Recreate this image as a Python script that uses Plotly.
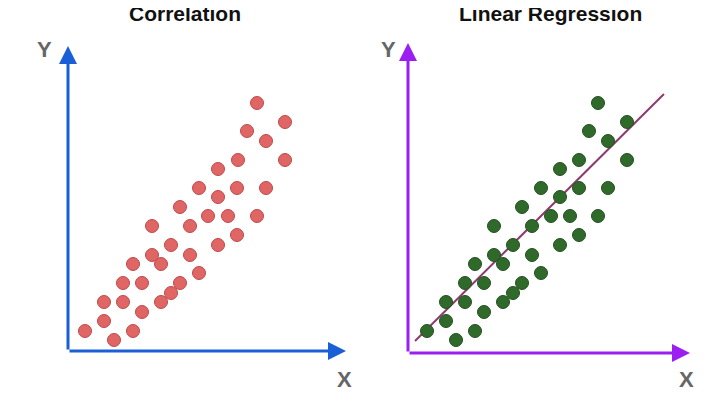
import plotly.graph_objects as go

# point positions (page-like units, y grows downwards)
corr_x = [257, 247, 285, 266, 285, 238, 218, 199, 237, 266, 180, 218, 208, 228, 257, 152, 190,
          171, 218, 237, 133, 152, 190, 161, 142, 180, 199, 123, 171, 104, 161, 123, 142, 104,
          85, 133, 114]
corr_y = [102, 130, 121, 140, 159, 159, 168, 187, 187, 187, 206, 196, 215, 215, 215, 225, 225,
          244, 244, 234, 263, 254, 254, 263, 282, 282, 272, 282, 292, 301, 301, 301, 311, 320,
          330, 330, 339]
reg_x = [598, 589, 627, 608, 627, 579, 560, 541, 579, 608, 522, 560, 551, 570, 598, 494, 532,
         513, 560, 579, 475, 494, 532, 503, 484, 522, 541, 465, 513, 446, 503, 465, 484, 446,
         427, 475, 456]
reg_y = corr_y
line_x = [415, 664]
line_y = [340, 93]

fig = go.Figure()
fig.add_trace(go.Scatter(x=corr_x, y=corr_y, mode="markers",
                         marker=dict(size=13, color="#e06666", line=dict(color="#c04848", width=1))))
fig.add_trace(go.Scatter(x=line_x, y=line_y, mode="lines", line=dict(color="#8e3a6f", width=2)))
fig.add_trace(go.Scatter(x=reg_x, y=reg_y, mode="markers",
                         marker=dict(size=13, color="#2f6a2a", line=dict(color="#244f20", width=1))))

def arrow(x0, y0, x1, y1, color):
    fig.add_annotation(x=x1, y=y1, ax=x0, ay=y0, xref="x", yref="y", axref="x", ayref="y",
                       showarrow=True, arrowhead=2, arrowsize=1.2, arrowwidth=3,
                       arrowcolor=color, text="")

arrow(68, 350, 68, 45, "#1a5fd6")
arrow(68, 350, 346, 350, "#1a5fd6")
arrow(408, 352, 408, 42, "#9b1ff0")
arrow(408, 352, 690, 352, "#9b1ff0")

for tx, ty, t, sz in [(44, 48, "<b>Y</b>", 22), (344, 378, "<b>X</b>", 22),
                      (388, 48, "<b>Y</b>", 22), (686, 378, "<b>X</b>", 22),
                      (185, 12, "<b>Correlation</b>", 21), (550, 12, "<b>Linear Regression</b>", 21)]:
    fig.add_annotation(x=tx, y=ty, xref="x", yref="y", text=t, showarrow=False,
                       font=dict(family="Arial, Liberation Sans", size=sz,
                                 color="#666666" if sz == 22 else "#111111"))

fig.update_layout(width=720, height=413, margin=dict(l=0, r=0, t=0, b=0),
                  plot_bgcolor="white", paper_bgcolor="white", showlegend=False)
fig.update_xaxes(range=[8, 728], visible=False)
fig.update_yaxes(range=[420, 7], visible=False)
fig.write_html("out.html")
